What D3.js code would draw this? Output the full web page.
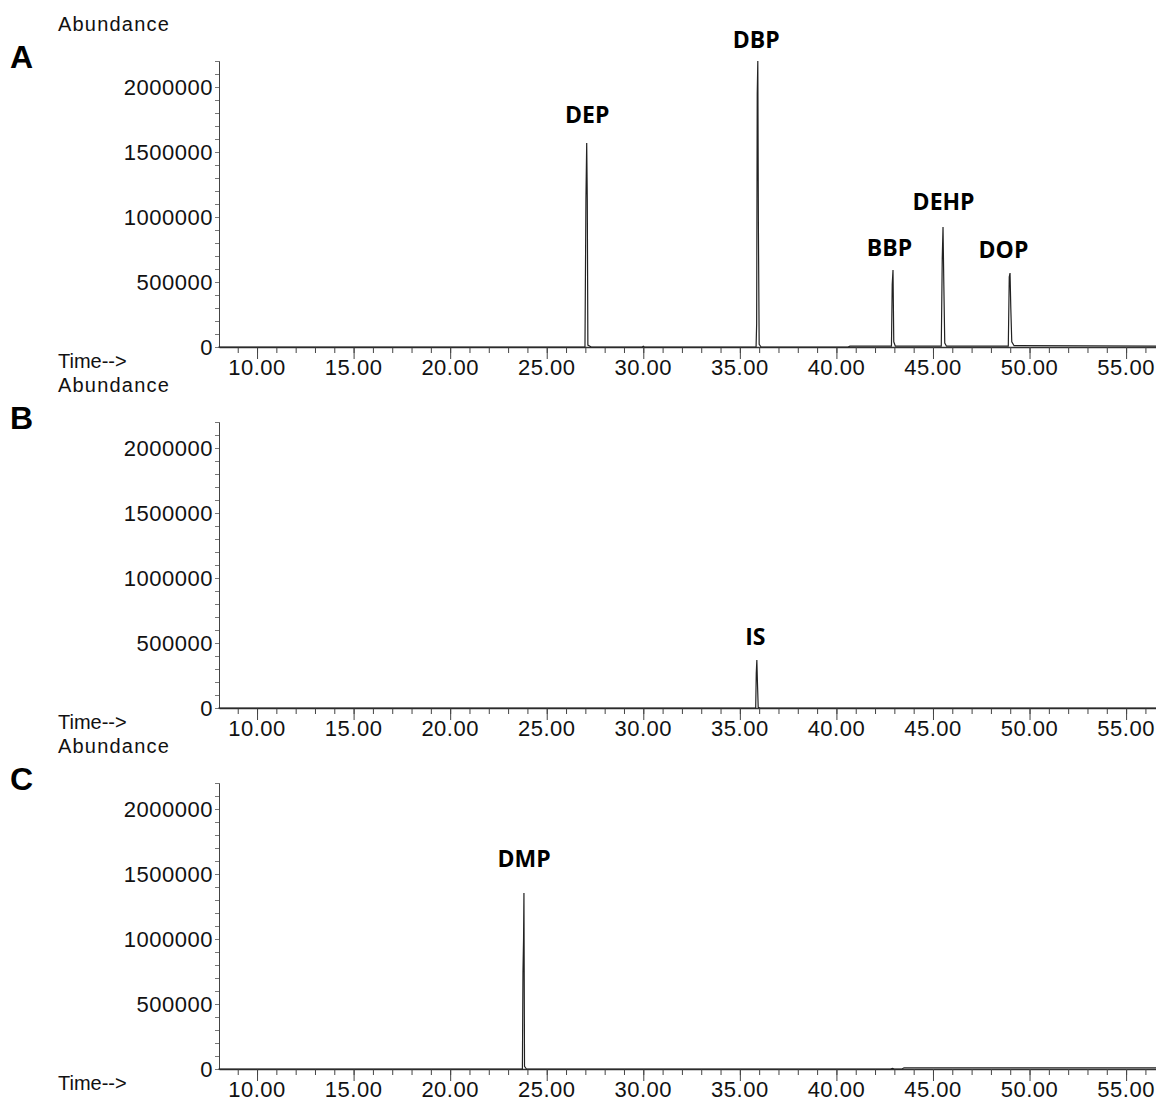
<!DOCTYPE html>
<html>
<head>
<meta charset="utf-8">
<script src="https://cdn.jsdelivr.net/npm/d3@7"></script>
<style>
  body { margin: 0; background: #fff; }
  svg { display: block; }
  .tick-label { font-family: "Liberation Sans", Arial, sans-serif; font-size: 22px; fill: #111; letter-spacing: 0.5px; }
  .side-label { font-family: "Liberation Sans", Arial, sans-serif; font-size: 20px; fill: #111; letter-spacing: 1.2px; }
  .peak-label { font-family: "Open Sans", "Noto Sans", sans-serif; font-weight: bold; font-size: 23px; fill: #000; }
  .panel-letter { font-family: "Liberation Sans", Arial, sans-serif; font-weight: bold; font-size: 32px; fill: #000; }
</style>
</head>
<body>
<div id="chart"></div>
<script>
// tick values
const xTicks = [10, 15, 20, 25, 30, 35, 40, 45, 50, 55];
const yTicks = [0, 500000, 1000000, 1500000, 2000000];
const panelNames = ["A", "B", "C"];

// chromatogram traces, [time (min), abundance]
const traceA = [
  [8.0, 0], [26.98, 0], [27.03, 1140000], [27.07, 1570000], [27.10, 1130000], [27.13, 15000], [27.3, 0],
  [29.95, 0], [30.0, 6000], [30.05, 0],
  [35.84, 0], [35.87, 180000], [35.90, 1950000], [35.93, 2200000], [35.96, 930000], [36.0, 20000], [36.1, 0],
  [40.6, 0], [40.7, 6000],
  [42.85, 6000], [42.89, 480000], [42.93, 592000], [42.97, 40000], [43.05, 6000],
  [45.43, 6000], [45.48, 680000], [45.52, 923000], [45.56, 500000], [45.61, 30000], [45.7, 6000],
  [48.90, 6000], [48.95, 540000], [48.99, 569000], [49.03, 300000], [49.08, 40000], [49.2, 10000],
  [56.6, 6000]
];
const traceB = [
  [8.0, 0], [35.82, 0], [35.85, 270000], [35.88, 369000], [35.91, 200000], [35.95, 5000], [36.05, 0],
  [56.6, 0]
];
const traceC = [
  [8.0, 0], [23.74, 0], [23.77, 750000], [23.80, 1000000], [23.82, 1354000], [23.85, 20000], [23.95, 0],
  [42.8, 0], [42.9, 4000], [43.0, 0], [43.4, 0], [43.5, 9000], [56.6, 9000]
];

// peak labels: anchor at label baseline, in data units
const labelsA = [
  {name: "DEP", t: 27.1, v: 1720000},
  {name: "DBP", t: 35.85, v: 2300000},
  {name: "BBP", t: 42.75, v: 700000},
  {name: "DEHP", t: 45.55, v: 1055000},
  {name: "DOP", t: 48.65, v: 685000}
];
const labelsB = [{name: "IS", t: 35.8, v: 485000}];
const labelsC = [{name: "DMP", t: 23.83, v: 1555000}];

const traces = [traceA, traceB, traceC];
const labels = [labelsA, labelsB, labelsC];

const W = 1156, H = 1102;
const axisLeft = 219, axisRight = 1157;
const panelStep = 361;
const zero0 = 347;

const svg = d3.select("#chart").append("svg")
  .attr("width", W)
  .attr("height", H);

let x = d3.scaleLinear()
  .domain([8.03, 56.6])
  .range([axisLeft, axisRight]);

panelNames.forEach(function (name, i) {
  let zero = zero0 + i * panelStep;
  let y = d3.scaleLinear()
    .domain([0, 2200000])
    .range([zero, zero - 286]);

  let g = svg.append("g");

  // texts left of the axes
  g.append("text").attr("class", "side-label")
    .attr("x", 58).attr("y", zero - 316).text("Abundance");
  g.append("text").attr("class", "panel-letter")
    .attr("x", 10).attr("y", zero - 279).text(name);
  g.append("text").attr("class", "side-label")
    .attr("x", 58).attr("y", zero + 21)
    .style("letter-spacing", "0px")
    .text("Time-->");

  // y axis, minor ticks every 100000
  let yAxis = g.append("g")
    .attr("transform", "translate(" + axisLeft + ",0)")
    .call(d3.axisLeft(y).tickValues(d3.range(0, 2200001, 100000)).tickSize(4).tickFormat(""));
  yAxis.select(".domain").attr("stroke", "#444");
  yAxis.selectAll(".tick line").attr("stroke", "#777");

  g.selectAll(".ylab")
    .data(yTicks)
    .enter().append("text")
    .attr("class", "tick-label")
    .attr("x", 213)
    .attr("y", (d) => y(d))
    .attr("dy", "0.36em")
    .attr("text-anchor", "end")
    .text((d) => d);

  // x axis: minor ticks every minute, major at labels
  let minor = g.append("g")
    .attr("transform", "translate(0," + zero + ")")
    .call(d3.axisBottom(x).tickValues(d3.range(9, 57, 1)).tickSize(6).tickSizeOuter(0).tickFormat(""));
  minor.select(".domain").attr("stroke", "#333").attr("stroke-width", 1.3);
  minor.selectAll(".tick line").attr("stroke", "#444");

  let major = g.append("g")
    .attr("transform", "translate(0," + zero + ")")
    .call(d3.axisBottom(x).tickValues(xTicks).tickSize(12).tickFormat(""));
  major.select(".domain").remove();
  major.selectAll(".tick line").attr("stroke", "#444");

  g.selectAll(".xlab")
    .data(xTicks)
    .enter().append("text")
    .attr("class", "tick-label")
    .attr("x", (d) => x(d))
    .attr("y", zero + 28)
    .attr("text-anchor", "middle")
    .text((d) => d.toFixed(2));

  // trace
  g.append("path")
    .datum(traces[i])
    .attr("fill", "none")
    .attr("stroke", "#222")
    .attr("stroke-width", 1.2)
    .attr("d", d3.line()
      .x(function (d) {
        return x(d[0]);
      })
      .y(function (d) {
        return y(d[1]);
      })
    );

  g.selectAll(".peak-label")
    .data(labels[i])
    .enter().append("text")
    .attr("class", "peak-label")
    .attr("x", (d) => x(d.t))
    .attr("y", (d) => y(d.v))
    .attr("text-anchor", "middle")
    .text((d) => d.name);
});
</script>
</body>
</html>
